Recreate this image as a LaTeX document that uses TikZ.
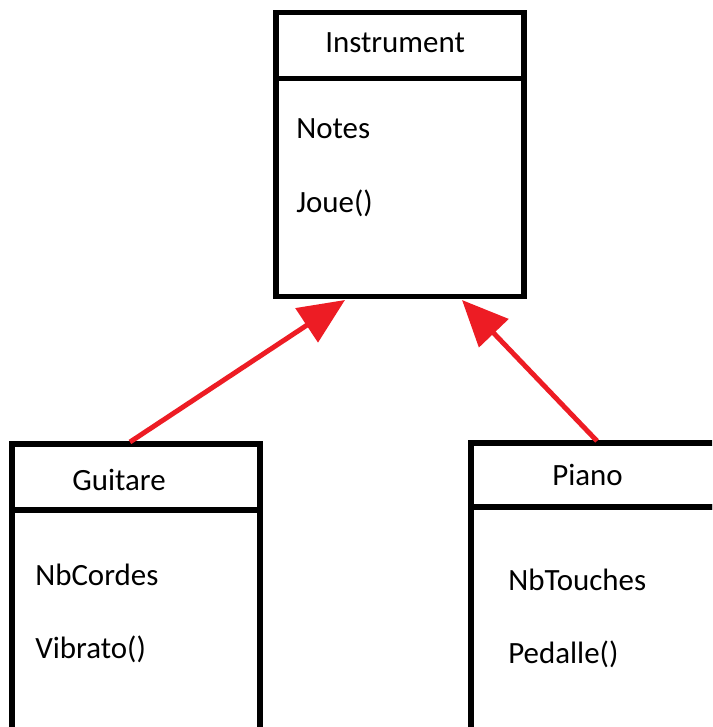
\documentclass[tikz,border=0pt]{standalone}
\usepackage{fontspec}
\setmainfont{Carlito}
\usetikzlibrary{positioning, arrows.meta}
\definecolor{paintred}{RGB}{237,28,36}

\begin{document}
\begin{tikzpicture}[
    x=0.025cm, y=-0.025cm,
    node distance=0cm,
    head/.style={rectangle, draw, line width=4pt, outer sep=0pt, minimum height=1.65cm},
    body/.style={rectangle, draw, line width=4pt, outer sep=0pt},
    txt/.style={anchor=base west, inner sep=0pt, font=\fontsize{22}{26}\selectfont},
    inherit/.style={-{Triangle[length=1.15cm, width=1cm]}, line width=3.5pt, paintred}
]
    \useasboundingbox (0,0) rectangle (712,727);
    \clip (0,0) rectangle (712,727);

    % classes
    \node[head, minimum width=6.2cm] (instrhead) at (400,45.5) {};
    \node[body, minimum width=6.2cm, minimum height=5.45cm, below=of instrhead] (instr) {};
    \node[head, minimum width=6.2cm] (guithead) at (136,477) {};
    \node[body, minimum width=6.2cm, minimum height=6cm, below=of guithead] (guit) {};
    \node[head, minimum width=7.5cm, minimum height=1.6cm] (pianohead) at (621,475) {};
    \node[body, minimum width=7.5cm, minimum height=6cm, below=of pianohead] (piano) {};

    % texts
    \node[txt] (instrname) at (325,53) {Instrument};
    \node[txt] (notes) at (296,139) {Notes};
    \node[txt] (joue) at (296,213) {Joue()};
    \node[txt] (guitname) at (72,490) {Guitare};
    \node[txt] (cordes) at (35,585) {NbCordes};
    \node[txt] (vibrato) at (35,658) {Vibrato()};
    \node[txt] (pianoname) at (552,485) {Piano};
    \node[txt] (touches) at (508,590) {NbTouches};
    \node[txt] (pedalle) at (508,663) {Pedalle()};

    % inheritance
    \coordinate (instrL) at (345,300);
    \coordinate (instrR) at (462,300);
    \coordinate (guittop) at (130,442);
    \coordinate (pianotop) at (597,441);
    \draw[inherit] (guittop) -- (instrL);
    \draw[inherit] (pianotop) -- (instrR);
\end{tikzpicture}
\end{document}
